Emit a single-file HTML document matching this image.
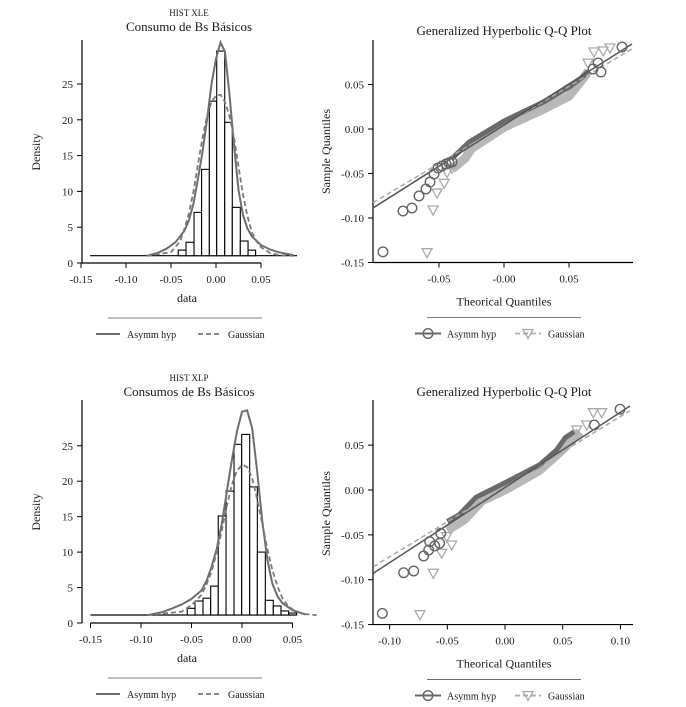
<!DOCTYPE html>
<html><head><meta charset="utf-8"><style>
html,body{margin:0;padding:0;background:#fff}
svg{display:block;font-family:"Liberation Serif",serif}
</style></head><body>
<svg id="c" width="686" height="707" viewBox="0 0 686 707"></svg>
<script>
// ---- Data: top histogram (XLE)
const h1Edges=[-0.042,-0.0333,-0.0244,-0.016,-0.0074,0.0008,0.0097,0.0181,0.027,0.0356,0.044];
const h1Dens=[1.8,2.9,7.07,13.08,22.6,29.6,19.65,7.77,3.07,1.8];
const h1AsymX=[-0.077,-0.065,-0.055,-0.045,-0.035,-0.03,-0.025,-0.02,-0.015,-0.01,-0.005,0,0.005,0.01,0.015,0.02,0.025,0.03,0.035,0.04,0.05,0.06,0.07,0.086];
const h1AsymY=[1.0,1.4,2.0,2.9,4.5,6,8.3,11.8,15.5,20,25,28.5,30.8,29.5,23.5,16.5,10.2,6.7,4.8,3.7,2.5,1.9,1.5,1.1];
const h1GaussX=[-0.077,-0.05,-0.04,-0.035,-0.03,-0.025,-0.02,-0.015,-0.01,-0.005,0,0.005,0.01,0.015,0.02,0.025,0.03,0.035,0.04,0.045,0.05,0.06,0.07,0.086];
const h1GaussY=[1.0,1.5,3,4.8,7,10,13.8,17.5,20.5,22.5,23.4,23.5,22.5,20.5,17.5,13.5,9.5,6.5,4.3,3,2.2,1.4,1.1,1.0];
// ---- Data: bottom histogram (XLP)
const h2Edges=[-0.0542,-0.0465,-0.0386,-0.031,-0.0235,-0.0158,-0.0079,-0.0003,0.0076,0.0152,0.0231,0.031,0.0386,0.0462,0.0541];
const h2Dens=[2.07,3.1,3.5,5.2,15.1,18.6,25.2,26.6,19.2,10.0,3.2,2.4,1.7,1.4];
const h2AsymX=[-0.094,-0.08,-0.07,-0.06,-0.05,-0.04,-0.035,-0.03,-0.025,-0.02,-0.015,-0.01,-0.005,0,0.005,0.01,0.015,0.02,0.025,0.03,0.035,0.04,0.05,0.063];
const h2AsymY=[1.1,1.5,2.0,2.6,3.4,4.6,6,8,10.5,14,18.5,23,27,29.8,30,27.5,21.5,14.5,9,5.6,3.8,2.8,1.8,1.2];
const h2GaussX=[-0.094,-0.06,-0.05,-0.04,-0.035,-0.03,-0.025,-0.02,-0.015,-0.01,-0.005,0,0.005,0.01,0.015,0.02,0.025,0.03,0.035,0.04,0.045,0.05,0.06,0.074];
const h2GaussY=[1.1,1.6,2.5,4,5.5,7.3,10,13,16.5,19.5,21.5,22.3,22,20.5,17.5,14,10.5,7.5,5.2,3.5,2.5,1.9,1.3,1.1];
// ---- Data: top QQ
const q1CircT=[0.0908,0.0723,0.0685,0.0746,-0.0538,-0.0569,-0.06,-0.0654,-0.0708,-0.0777,-0.0931,-0.0508,-0.0477,-0.0446,-0.0423,-0.04];
const q1CircS=[0.0921,0.0742,0.0674,0.064,-0.0506,-0.0596,-0.0674,-0.0753,-0.0888,-0.0921,-0.138,-0.0438,-0.0416,-0.0393,-0.038,-0.037];
const q1TriT=[0.0815,0.0762,0.0692,0.0646,-0.0546,-0.0592,-0.0515,-0.046,-0.0438,-0.04];
const q1TriS=[0.091,0.0876,0.0865,0.074,-0.091,-0.139,-0.072,-0.061,-0.049,-0.044];
const q1DarkT=[-0.04,-0.027,0,0.03,0.05,0.06,0.065];
const q1DarkS=[-0.033,-0.015,0.009,0.03,0.047,0.058,0.065];
const q1LightT=[-0.04,-0.03,-0.025,0,0.03,0.05,0.06,0.065];
const q1LightS=[-0.045,-0.033,-0.022,0.002,0.022,0.037,0.055,0.065];
const q1LineT=[-0.1008,0.0985], q1LineS=[-0.0888,0.0955];
const q1DashT=[-0.1008,0.0985], q1DashS=[-0.0828,0.090];
// ---- Data: bottom QQ
const q2CircT=[0.0997,0.0774,-0.0557,-0.0566,-0.0609,-0.0653,-0.0661,-0.0705,-0.0791,-0.0878,-0.1063];
const q2CircS=[0.090,0.0725,-0.0483,-0.0594,-0.0624,-0.0576,-0.0669,-0.0736,-0.0903,-0.0922,-0.1375];
const q2TriT=[0.0765,0.0838,0.0708,0.0621,-0.0621,-0.0737,-0.0549,-0.0462,-0.0505];
const q2TriS=[0.0862,0.0862,0.0725,0.0669,-0.0929,-0.139,-0.0706,-0.0613,-0.052];
const q2DarkT=[-0.05,-0.04,-0.025,0,0.03,0.045,0.052,0.06];
const q2DarkS=[-0.035,-0.028,-0.008,0.008,0.028,0.045,0.058,0.065];
const q2LightT=[-0.05,-0.035,-0.02,0,0.03,0.05,0.065];
const q2LightS=[-0.045,-0.033,-0.012,0,0.022,0.045,0.065];
const q2LineT=[-0.1141,0.1083], q2LineS=[-0.0929,0.0937];
const q2DashT=[-0.1141,0.1083], q2DashS=[-0.0855,0.0884];
const histTicksX=["-0.15","-0.10","-0.05","0.00","0.05"];
const histTicksY=["0","5","10","15","20","25"];
const qq1TicksX=["-0.05","-0.00","0.05"];
const qq2TicksX=["-0.10","-0.05","0.00","0.05","0.10"];
const qqTicksY=["-0.15","-0.10","-0.05","0.00","0.05"];

const svg=document.getElementById('c');
const NS='http://www.w3.org/2000/svg';
function mk(tag,at,parent,txt){const e=document.createElementNS(NS,tag);for(const k in at)e.setAttribute(k,at[k]);if(txt!==undefined)e.textContent=txt;(parent||svg).appendChild(e);return e;}
function grp(name){const g=mk('g',{});return g;}
function txt(g,x,y,s,size,name,rot,anchor){const t=mk('text',{x:x,y:y,'font-size':size,'text-anchor':anchor||'middle',fill:'#1a1a1a'},g,s);if(rot)t.setAttribute('transform','rotate(-90 '+x+' '+y+')');return t;}

function hist(o){
  const g=grp(o.name);
  const X=v=>o.x0+o.kx*v, Y=v=>o.y0-o.ky*v;
  mk('line',{x1:o.ax,y1:o.ytop,x2:o.ax,y2:o.y0,stroke:'#000','stroke-width':1.2},g);
  mk('line',{x1:X(-0.15),y1:o.y0,x2:X(0.05),y2:o.y0,stroke:'#000','stroke-width':1.2},g);
  histTicksY.forEach(s=>{const v=parseFloat(s);mk('line',{x1:o.ax-5,y1:Y(v),x2:o.ax,y2:Y(v),stroke:'#000'},g);txt(g,o.ax-9,Y(v)+4,s,11,'y-tick-label',0,'end');});
  histTicksX.forEach(s=>{const v=parseFloat(s);mk('line',{x1:X(v),y1:o.y0,x2:X(v),y2:o.y0+5,stroke:'#000'},g);txt(g,X(v),o.y0+20,s,11,'x-tick-label');});
  mk('line',{x1:X(o.bx0),y1:o.base,x2:X(o.bx1),y2:o.base,stroke:'#000','stroke-width':1.2},g);
  o.dens.forEach((d,i)=>{const r=mk('rect',{x:X(o.edges[i]),y:Y(d),width:X(o.edges[i+1])-X(o.edges[i]),height:Math.max(0,o.base-Y(d)),fill:'#fff',stroke:'#000','stroke-width':1.1},g);
    
    });
  const pts=(xs,ys)=>xs.map((x,i)=>X(x).toFixed(1)+','+Y(ys[i]).toFixed(1)).join(' ');
  const a=mk('polyline',{points:pts(o.ax_,o.ay_),fill:'none',stroke:'#6e6e6e','stroke-width':2},g);
  
  
  const gs=mk('polyline',{points:pts(o.gx_,o.gy_),fill:'none',stroke:'#7a7a7a','stroke-width':1.8,'stroke-dasharray':'5,3'},g);
  
  
  txt(g,189,o.t1,o.sub,9,'plot-subtitle');
  txt(g,189,o.t1+15,o.title,13,'plot-title');
  txt(g,187,o.y0+39,'data',12,'x-axis-title');
  txt(g,40,o.y0-111,'Density',12,'y-axis-title',1);
  const L=o.y0+55;
  mk('line',{x1:108,y1:L,x2:262,y2:L,stroke:'#555','stroke-width':0.8},g);
  mk('line',{x1:96,y1:L+16,x2:120,y2:L+16,stroke:'#6e6e6e','stroke-width':2},g);
  txt(g,127,L+20,'Asymm hyp',10,'legend-entry-asymm',0,'start');
  mk('line',{x1:198,y1:L+16,x2:222,y2:L+16,stroke:'#7a7a7a','stroke-width':1.8,'stroke-dasharray':'5,3'},g);
  txt(g,228,L+20,'Gaussian',10,'legend-entry-gaussian',0,'start');
}

function tri(g,x,y,c,name){const p=mk('polygon',{points:(x-5)+','+(y-4)+' '+(x+5)+','+(y-4)+' '+x+','+(y+5),fill:'none',stroke:c,'stroke-width':1.3},g);
  
  }
function circ(g,x,y,c,name){const p=mk('circle',{cx:x,cy:y,r:4.8,fill:'none',stroke:c,'stroke-width':1.4},g);
  
  }

function qq(o){
  const g=grp(o.name);
  const X=v=>o.x0+o.kx*v, Y=v=>o.y0-o.ky*v;
  mk('line',{x1:o.ax,y1:o.ytop,x2:o.ax,y2:Y(-0.15),stroke:'#000','stroke-width':1.2},g);
  mk('line',{x1:o.ax,y1:Y(-0.15),x2:o.xr,y2:Y(-0.15),stroke:'#000','stroke-width':1.2},g);
  qqTicksY.forEach(s=>{const v=parseFloat(s);mk('line',{x1:o.ax-5,y1:Y(v),x2:o.ax,y2:Y(v),stroke:'#000'},g);txt(g,o.ax-9,Y(v)+4,s,11,'y-tick-label',0,'end');});
  o.ticks.forEach(s=>{const v=parseFloat(s);mk('line',{x1:X(v),y1:Y(-0.15),x2:X(v),y2:Y(-0.15)+5,stroke:'#000'},g);txt(g,X(v),Y(-0.15)+20,s,11,'x-tick-label');});
  const pts=(xs,ys)=>xs.map((x,i)=>X(x).toFixed(1)+','+Y(ys[i]).toFixed(1)).join(' ');
  const lb=mk('polyline',{points:pts(o.lt,o.ls),fill:'none',stroke:'#b8b8b8','stroke-width':9,'stroke-linejoin':'round'},g);
  
  
  const db=mk('polyline',{points:pts(o.dt,o.ds),fill:'none',stroke:'#6a6a6a','stroke-width':5,'stroke-linejoin':'round'},g);
  
  
  const dl=mk('polyline',{points:pts(o.dashT,o.dashS),fill:'none',stroke:'#aaa','stroke-width':1.5,'stroke-dasharray':'5,3'},g);
  
  
  const sl=mk('polyline',{points:pts(o.lineT,o.lineS),fill:'none',stroke:'#555','stroke-width':1.5},g);
  
  
  o.triT.forEach((t,i)=>tri(g,X(t),Y(o.triS[i]),'#aaa','gaussian-point'));
  o.circT.forEach((t,i)=>circ(g,X(t),Y(o.circS[i]),'#666','asymm-point'));
  txt(g,504,o.t1,'Generalized Hyperbolic Q-Q Plot',13,'plot-title');
  txt(g,504,Y(-0.15)+43,'Theorical Quantiles',12,'x-axis-title');
  txt(g,330,Y(-0.15)-111,'Sample Quantiles',12,'y-axis-title',1);
  const L=Y(-0.15)+55;
  mk('line',{x1:427,y1:L,x2:581,y2:L,stroke:'#555','stroke-width':0.8},g);
  mk('line',{x1:415,y1:L+16,x2:441,y2:L+16,stroke:'#666','stroke-width':2},g);
  circ(g,428,L+16,'#666','legend-marker-asymm');
  txt(g,447,L+20,'Asymm hyp',10,'legend-entry-asymm',0,'start');
  mk('line',{x1:515,y1:L+16,x2:541,y2:L+16,stroke:'#aaa','stroke-width':1.8,'stroke-dasharray':'5,3'},g);
  tri(g,528,L+16,'#aaa','legend-marker-gaussian');
  txt(g,548,L+20,'Gaussian',10,'legend-entry-gaussian',0,'start');
}

hist({name:'hist-xle',x0:216,kx:900,y0:263,ky:7.16,ax:82,ytop:40,base:255.7,bx0:-0.14,bx1:0.09,edges:h1Edges,dens:h1Dens,ax_:h1AsymX,ay_:h1AsymY,gx_:h1GaussX,gy_:h1GaussY,t1:16,sub:'HIST XLE',title:'Consumo de Bs Básicos'});
hist({name:'hist-xlp',x0:242,kx:1010,y0:623,ky:7.09,ax:82,ytop:400,base:615,bx0:-0.15,bx1:0.054,edges:h2Edges,dens:h2Dens,ax_:h2AsymX,ay_:h2AsymY,gx_:h2GaussX,gy_:h2GaussY,t1:381,sub:'HIST XLP',title:'Consumos de Bs Básicos'});
qq({name:'qq-xle',x0:504,kx:1300,y0:129,ky:890,ax:373,xr:633,ytop:40,ticks:qq1TicksX,circT:q1CircT,circS:q1CircS,triT:q1TriT,triS:q1TriS,dt:q1DarkT,ds:q1DarkS,lt:q1LightT,ls:q1LightS,lineT:q1LineT,lineS:q1LineS,dashT:q1DashT,dashS:q1DashS,t1:35});
qq({name:'qq-xlp',x0:505,kx:1154,y0:490,ky:897,ax:373,xr:633,ytop:400,ticks:qq2TicksX,circT:q2CircT,circS:q2CircS,triT:q2TriT,triS:q2TriS,dt:q2DarkT,ds:q2DarkS,lt:q2LightT,ls:q2LightS,lineT:q2LineT,lineS:q2LineS,dashT:q2DashT,dashS:q2DashS,t1:396});
</script>
</body></html>
